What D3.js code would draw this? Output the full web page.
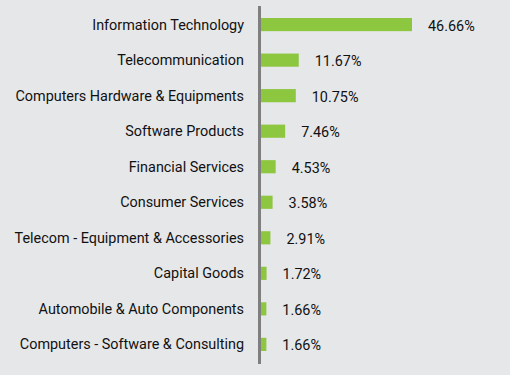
<!DOCTYPE html>
<html>
<head>
<meta charset="utf-8">
<script src="https://cdn.jsdelivr.net/npm/d3@7"></script>
<style>
  body { margin: 0; background: #e6e7e9; }
  text { font-family: Roboto, "Noto Sans", sans-serif; }
</style>
</head>
<body>
<div id="container"></div>
<script>
let w = 510;
let h = 375;

let sectors = [
  "Information Technology",
  "Telecommunication",
  "Computers Hardware & Equipments",
  "Software Products",
  "Financial Services",
  "Consumer Services",
  "Telecom - Equipment & Accessories",
  "Capital Goods",
  "Automobile & Auto Components",
  "Computers - Software & Consulting"
];
let weights = [46.66, 11.67, 10.75, 7.46, 4.53, 3.58, 2.91, 1.72, 1.66, 1.66];

let viz = d3.select("#container")
  .append("svg")
    .attr("width", w)
    .attr("height", h)
    .style("background-color", "#e6e7e9")
;

let axisX = 259.5;
let barStart = 261;

// y positions: one band per sector
let yScale = d3.scaleBand()
  .domain(sectors)
  .range([7, 362])
  .paddingInner(0.63)
  .paddingOuter(0.31);

// 46.66% is about 151px wide
let xScale = d3.scaleLinear()
  .domain([0, 46.66])
  .range([barStart, 412]);

// bars
viz.selectAll(".bar").data(sectors).enter()
  .append("rect")
    .attr("class", "bar")
    .attr("x", barStart)
    .attr("y", function(d) { return yScale(d); })
    .attr("width", function(d, i) { return xScale(weights[i]) - barStart; })
    .attr("height", yScale.bandwidth())
    .attr("fill", "#8dc63f")
;

// vertical axis line
viz.append("line")
  .attr("x1", axisX)
  .attr("x2", axisX)
  .attr("y1", 6)
  .attr("y2", 364)
  .attr("stroke", "#7f7f7f")
  .attr("stroke-width", 3)
;

// category labels
viz.selectAll(".cat").data(sectors).enter()
  .append("text")
    .attr("class", "cat")
    .attr("x", 244)
    .attr("y", function(d) { return yScale(d) + yScale.bandwidth() / 2; })
    .attr("dy", "0.35em")
    .attr("text-anchor", "end")
    .attr("font-size", "14.4px")
    .attr("fill", "#111")
    .text(function(d) { return d; })
;

// value labels
viz.selectAll(".val").data(sectors).enter()
  .append("text")
    .attr("class", "val")
    .attr("x", function(d, i) { return xScale(weights[i]) + 16; })
    .attr("y", function(d) { return yScale(d) + yScale.bandwidth() / 2 + 1; })
    .attr("dy", "0.35em")
    .attr("font-size", "14.4px")
    .attr("fill", "#111")
    .text(function(d, i) { return weights[i].toFixed(2) + "%"; })
;
</script>
</body>
</html>
